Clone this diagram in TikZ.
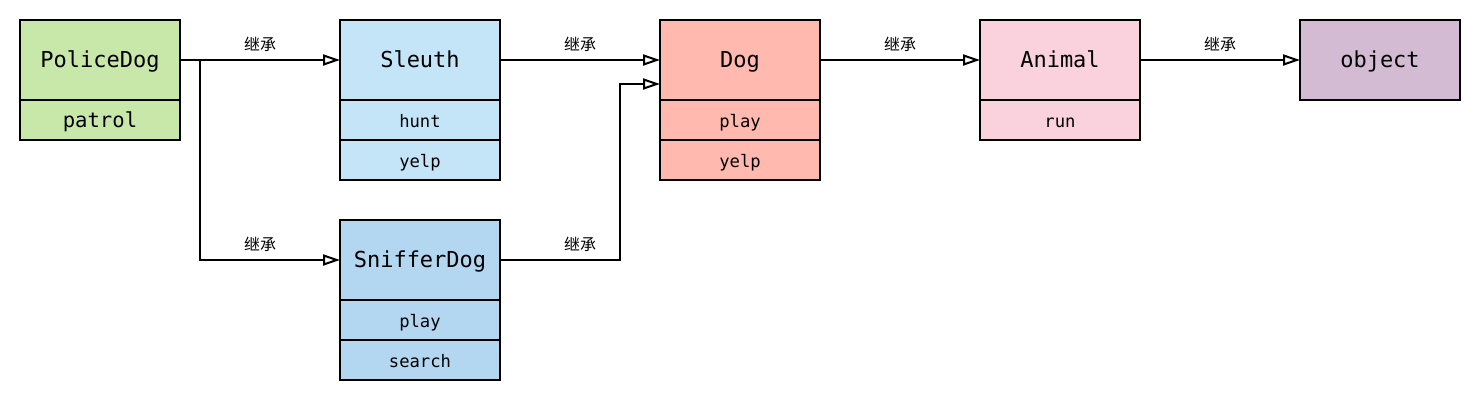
\documentclass[tikz,border=0pt]{standalone}
\usepackage{fontspec}
\newfontfamily\monof{DejaVu Sans Mono}
\newfontfamily\cjkf{Noto Sans CJK SC}
\usetikzlibrary{arrows.meta}
\definecolor{cPolice}{HTML}{C8E8AA}
\definecolor{cSleuth}{HTML}{C3E5F7}
\definecolor{cSniffer}{HTML}{B3D7F0}
\definecolor{cDog}{HTML}{FFB9AF}
\definecolor{cAnimal}{HTML}{FAD2DD}
\definecolor{cObject}{HTML}{D3BBD3}
\tikzset{
  boxbase/.style={draw, line width=1pt, minimum width=80pt, inner sep=0pt, outer sep=0pt, text height=0.73em, text depth=0pt},
  titlebox/.style={boxbase, minimum height=40pt, font=\monof\fontsize{11}{13}\selectfont},
  rowbox/.style={boxbase, minimum height=20pt, font=\monof\fontsize{8.6}{10}\selectfont},
  bigrow/.style={rowbox, font=\monof\fontsize{10.3}{12}\selectfont},
  inh/.style={-{Triangle[length=8.5pt,width=5.5pt,fill=white]}, line width=1pt},
  lbl/.style={font=\cjkf\fontsize{8}{10}\selectfont, inner sep=0pt}
}
\begin{document}
\begin{tikzpicture}[x=0.5pt,y=-0.5pt]
\useasboundingbox (0,0) rectangle (1480,400);
% PoliceDog
\node[titlebox, fill=cPolice] (police) at (100,60) {PoliceDog};
\node[bigrow, fill=cPolice] (patrol) at (100,120) {patrol};
% Sleuth
\node[titlebox, fill=cSleuth] (sleuth) at (420,60) {Sleuth};
\node[rowbox, fill=cSleuth] (hunt) at (420,120) {hunt};
\node[rowbox, fill=cSleuth] (syelp) at (420,160) {yelp};
% SnifferDog
\node[titlebox, fill=cSniffer] (sniffer) at (420,260) {SnifferDog};
\node[rowbox, fill=cSniffer] (splay) at (420,320) {play};
\node[rowbox, fill=cSniffer] (search) at (420,360) {search};
% Dog
\node[titlebox, fill=cDog] (dog) at (740,60) {Dog};
\node[rowbox, fill=cDog] (dplay) at (740,120) {play};
\node[rowbox, fill=cDog] (dyelp) at (740,160) {yelp};
% Animal
\node[titlebox, fill=cAnimal] (animal) at (1060,60) {Animal};
\node[rowbox, fill=cAnimal] (run) at (1060,120) {run};
% object
\node[titlebox, fill=cObject] (object) at (1380,60) {object};
% coordinates
\coordinate (split) at (200,60);
\coordinate (bend1) at (200,260);
\coordinate (bend2) at (620,260);
\coordinate (bend3) at (620,84);
\coordinate (dogin) at (660,84);
% connectors
\draw[inh] (police.east) -- (sleuth.west);
\draw[inh] (split) -- (bend1) -- (sniffer.west);
\draw[inh] (sleuth.east) -- (dog.west);
\draw[inh] (sniffer.east) -- (bend2) -- (bend3) -- (dogin);
\draw[inh] (dog.east) -- (animal.west);
\draw[inh] (animal.east) -- (object.west);
% labels
\node[lbl] (l1) at (260,44) {继承};
\node[lbl] (l2) at (260,244) {继承};
\node[lbl] (l3) at (580,44) {继承};
\node[lbl] (l4) at (580,244) {继承};
\node[lbl] (l5) at (900,44) {继承};
\node[lbl] (l6) at (1220,44) {继承};
\end{tikzpicture}
\end{document}
